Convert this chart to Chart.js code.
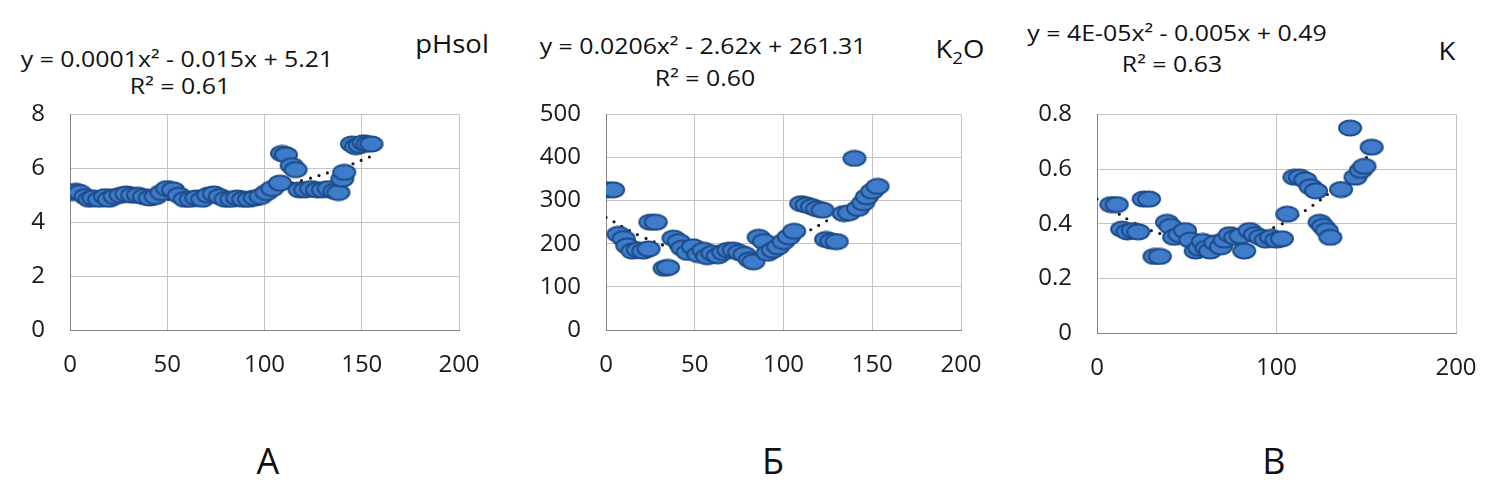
<!DOCTYPE html>
<html>
<head>
<meta charset="utf-8">
<script src="https://cdn.jsdelivr.net/npm/chart.js@4.4.1/dist/chart.umd.min.js"></script>
<style>
body { margin: 0; width: 1500px; height: 497px; background: #fff; position: relative; overflow: hidden; font-family: "Open Sans", sans-serif; color: #111; }
canvas { position: absolute; top: 100px; }
.t { position: absolute; white-space: nowrap; transform: translate(-50%, -50%) scaleX(1.13); font-size: 22px; }
.ttl { font-size: 25px; transform: translate(-50%, -50%) scaleX(1.1); }
.big { font-size: 36px; transform: translate(-50%, -50%); }
</style>
</head>
<body>
<canvas id="chartA" width="490" height="300" style="left:0px"></canvas>
<canvas id="chartB" width="490" height="300" style="left:500px"></canvas>
<canvas id="chartV" width="500" height="300" style="left:1000px"></canvas>

<div class="t" style="left:177px;top:58px">y = 0.0001x² - 0.015x + 5.21</div>
<div class="t" style="left:180px;top:85px">R² = 0.61</div>
<div class="t ttl" style="left:452px;top:43px">pHsol</div>

<div class="t" style="left:703px;top:45px">y = 0.0206x² - 2.62x + 261.31</div>
<div class="t" style="left:705px;top:77px">R² = 0.60</div>
<div class="t ttl" style="left:960px;top:50px">K<sub style="font-size:17px">2</sub>O</div>

<div class="t" style="left:1177px;top:32px">y = 4E-05x² - 0.005x + 0.49</div>
<div class="t" style="left:1172px;top:63px">R² = 0.63</div>
<div class="t ttl" style="left:1447px;top:50px">K</div>

<div class="t big" style="left:268px;top:460px">А</div>
<div class="t big" style="left:773px;top:460px">Б</div>
<div class="t big" style="left:1274px;top:460px">В</div>

<script>
// panel А - pHsol
const xA = [1,3,5,8,10,12,15,18,20,23,26,29,32,35,38,41,44,47,50,53,56,59,62,65,68,71,74,77,80,83,86,89,92,95,98,101,104,108,109,111,114,116,118,121,124,127,130,133,136,138,140,141,145,147,149,151,153,155];
const yA = [5.1,5.15,5.1,4.95,4.85,4.9,4.85,4.95,4.85,4.95,5.0,5.05,5.0,5.0,4.95,4.9,4.95,5.1,5.25,5.2,5.0,4.85,4.85,4.9,4.85,5.0,5.05,4.95,4.85,4.85,4.9,4.85,4.85,4.9,4.95,5.1,5.25,5.45,6.55,6.5,6.1,5.95,5.2,5.2,5.25,5.2,5.2,5.25,5.15,5.1,5.6,5.85,6.9,6.8,6.85,6.95,6.9,6.9];

// panel Б - K2O
const xB = [1,4,7,10,12,15,18,21,24,25,28,33,35,38,41,43,46,49,52,55,57,60,63,66,69,72,75,78,81,83,86,89,91,94,97,100,103,106,110,113,116,119,122,124,127,130,134,137,140,142,145,147,150,153];
const yB = [325,325,222,212,195,183,186,183,188,250,250,143,145,213,205,190,180,193,175,185,170,178,172,180,185,185,180,175,163,158,215,205,178,185,193,205,216,229,293,290,286,281,278,210,206,205,270,272,398,282,295,309,322,333];

// panel В - K
const xV = [8,11,14,17,20,23,26,29,32,35,39,41,43,46,49,52,55,57,59,61,63,66,69,71,74,77,80,82,85,88,91,94,97,100,103,106,110,113,116,119,122,124,126,128,130,136,141,144,147,149,153];
const yV = [0.47,0.47,0.38,0.37,0.375,0.37,0.49,0.49,0.28,0.28,0.405,0.39,0.35,0.36,0.375,0.34,0.30,0.31,0.335,0.31,0.30,0.33,0.315,0.34,0.36,0.35,0.355,0.30,0.375,0.36,0.35,0.34,0.35,0.34,0.345,0.435,0.57,0.57,0.56,0.535,0.52,0.405,0.39,0.375,0.35,0.525,0.75,0.57,0.595,0.61,0.68];

// trend lines (dotted)
const trendX = [0,20,40,60,80,100,120,140,155];
const trendA = [5.21,4.98,4.86,4.86,4.98,5.21,5.56,6.02,6.45];
const trendB = [261,217,188,179,183,205,243,297,350];
const trendV = [0.49,0.406,0.354,0.334,0.346,0.39,0.466,0.574,0.676];

const yMaxes = [8, 500, 0.8];
const yStepArr = [2, 100, 0.2];
const xStepArr = [50, 50, 100];

// marker: wide blue ellipse like the excel one
function makeDot() {
    const c = document.createElement('canvas');
    c.width = 26; c.height = 18;
    const g = c.getContext('2d');
    g.beginPath();
    g.ellipse(13, 9, 11, 7.5, 0, 0, Math.PI * 2);
    g.fillStyle = '#3e7bc9';
    g.fill();
    g.lineWidth = 2;
    g.strokeStyle = '#1d4b88';
    g.stroke();
    return c;
}
const dot = makeDot();

function toPts(xs, ys) {
    return xs.map(function (x, i) { return { x: x, y: ys[i] }; });
}

function makePanel(id, xs, ys, trend, k, yAxisW, padRight, xAxisH) {
    const ctx = document.getElementById(id).getContext('2d');
    return new Chart(ctx, {
        type: 'scatter',
        data: {
            datasets: [
                {
                    data: toPts(xs, ys),
                    pointStyle: dot,
                    pointRadius: 10,
                    showLine: false,
                    order: 1
                },
                {
                    type: 'line',
                    data: toPts(trendX, trend),
                    borderColor: '#1a1a1a',
                    borderWidth: 3.2,
                    borderDash: [0, 9],
                    borderCapStyle: 'round',
                    pointRadius: 0,
                    tension: 0.4,
                    fill: false,
                    order: 2
                }
            ]
        },
        options: {
            responsive: false,
            animation: false,
            devicePixelRatio: 1,
            events: [],
            layout: { padding: { top: 14, right: padRight, left: 0, bottom: 0 } },
            plugins: { legend: { display: false }, tooltip: { enabled: false } },
            scales: {
                x: {
                    type: 'linear',
                    min: 0,
                    max: 200,
                    ticks: { stepSize: xStepArr[k], padding: 0, color: '#1a1a1a', font: { family: 'Open Sans', size: 24 } },
                    grid: { color: '#c4c4c4', drawTicks: true, tickLength: 21, tickColor: 'rgba(0,0,0,0)' },
                    border: { color: '#858585' },
                    afterFit: function (s) { s.height = xAxisH; }
                },
                y: {
                    min: 0,
                    max: yMaxes[k],
                    ticks: { stepSize: yStepArr[k], padding: 0, color: '#1a1a1a', font: { family: 'Open Sans', size: 24 } },
                    grid: { color: '#c4c4c4', drawTicks: true, tickLength: 25, tickColor: 'rgba(0,0,0,0)' },
                    border: { color: '#858585' },
                    afterFit: function (s) { s.width = yAxisW; }
                }
            }
        }
    });
}

makePanel('chartA', xA, yA, trendA, 0, 70, 31, 70);
makePanel('chartB', xB, yB, trendB, 1, 106, 29, 70);
makePanel('chartV', xV, yV, trendV, 2, 97, 44, 67);
</script>
</body>
</html>
